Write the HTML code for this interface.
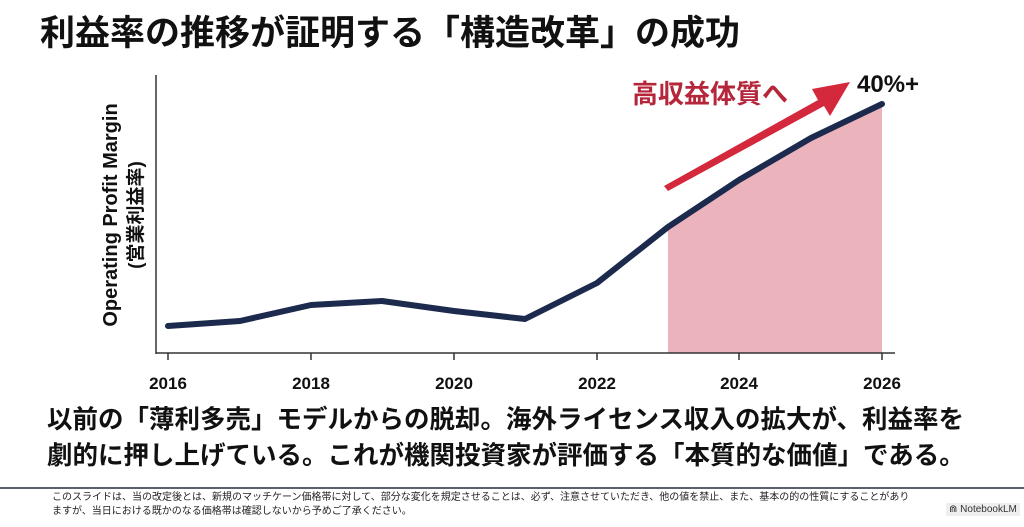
<!DOCTYPE html>
<html><head><meta charset="utf-8"><style>
body{margin:0;width:1024px;height:527px;background:#fff;overflow:hidden;font-family:"Liberation Sans","Noto Sans CJK JP",sans-serif;position:relative}
.t{position:absolute;white-space:nowrap}
</style></head><body>
<div class="t" style="left:40px;top:5px;font-size:35px;font-weight:bold;color:#111">利益率の推移が証明する「構造改革」の成功</div>
<svg width="1024" height="400" style="position:absolute;left:0;top:0">
<polygon points="668,227 739,180 811,138 882,104 882,353 668,353" fill="#ebb3bb"/>
<line x1="156" y1="75" x2="156" y2="354" stroke="#333" stroke-width="1.5"/>
<line x1="156" y1="353" x2="895" y2="353" stroke="#333" stroke-width="1.5"/>
<g stroke="#333" stroke-width="1.5">
<line x1="168" y1="353" x2="168" y2="360"/><line x1="311" y1="353" x2="311" y2="360"/><line x1="454" y1="353" x2="454" y2="360"/><line x1="597" y1="353" x2="597" y2="360"/><line x1="739" y1="353" x2="739" y2="360"/><line x1="882" y1="353" x2="882" y2="360"/>
</g>
<polyline points="168,326 240,321 311,305 382,301 454,311 525,319 597,283 668,227 739,180 811,138 882,104" fill="none" stroke="#1c2a4d" stroke-width="6" stroke-linejoin="round" stroke-linecap="round"/>
<polygon points="664,186 818,100 812,89 850,82 830,116 824,106 668,191" fill="#d4283c"/>
<g font-size="17" font-weight="bold" fill="#111" text-anchor="middle">
<text x="168" y="389">2016</text><text x="311" y="389">2018</text><text x="454" y="389">2020</text><text x="597" y="389">2022</text><text x="739" y="389">2024</text><text x="882" y="389">2026</text>
</g>
<text x="632" y="103" font-size="26" font-weight="bold" fill="#b5263a">高収益体質へ</text>
<text x="857" y="92" font-size="24" font-weight="bold" fill="#111">40%+</text>
<g transform="translate(117,215) rotate(-90)" text-anchor="middle" font-weight="bold" fill="#111">
<text x="0" y="0" font-size="20">Operating Profit Margin</text>
<text x="0" y="25" font-size="19">(営業利益率)</text>
</g>
</svg>
<div class="t" style="left:47px;top:402px;font-size:25.5px;font-weight:bold;color:#111;line-height:36px">以前の「薄利多売」モデルからの脱却。海外ライセンス収入の拡大が、利益率を<br>劇的に押し上げている。これが機関投資家が評価する「本質的な価値」である。</div>
<div style="position:absolute;left:0;top:487px;width:1024px;height:2px;background:#5a6070"></div>
<div class="t" style="left:52px;top:491px;font-size:10px;color:#222;line-height:14px">このスライドは、当の改定後とは、新規のマッチケーン価格帯に対して、部分な変化を規定させることは、必ず、注意させていただき、他の値を禁止、また、基本の的の性質にすることがあり<br>ますが、当日における既かのなる価格帯は確認しないから予めご了承ください。</div>
<div class="t" style="left:946px;top:503px;font-size:10px;color:#333;background:#eee;padding:1px 3px">⋒ NotebookLM</div>
</body></html>
